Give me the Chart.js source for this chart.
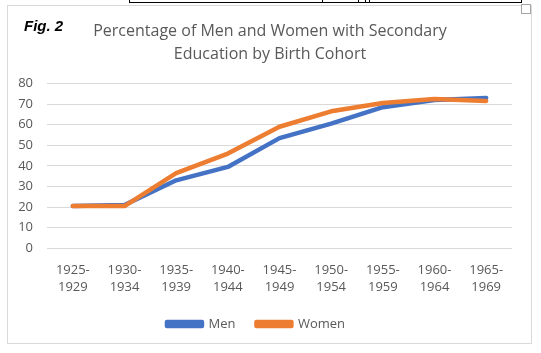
<!DOCTYPE html>
<html>
<head>
<meta charset="utf-8">
<script src="https://cdn.jsdelivr.net/npm/chart.js@4"></script>
<style>
  html, body { margin: 0; padding: 0; background: #fff; }
  #wrap { position: relative; width: 541px; height: 353px; overflow: hidden; }
  #chart { position: absolute; left: 0; top: 0; }
  .frame { position: absolute; left: 7px; top: 5px; width: 525px; height: 339px; box-sizing: border-box; border: 1px solid #d9d9d9; pointer-events: none; }
  .handle { position: absolute; left: 521px; top: 4px; width: 10px; height: 10px; box-sizing: border-box; border: 1px solid #a6a6a6; background: #fff; }
  .topbox { position: absolute; left: 129px; top: -10px; width: 393px; height: 13px; box-sizing: border-box; border: 1px solid #000; }
  .tick { position: absolute; top: 0; width: 1px; height: 2px; background: #000; }
  .fig { position: absolute; left: 24px; top: 18px; font: italic bold 15px/15px "Liberation Sans", Arial, sans-serif; color: #000; }
  .title { position: absolute; left: 0; top: 18.75px; width: 540px; text-align: center;
           font: 16px/23.5px "Open Sans", sans-serif; color: #595959; }
</style>
</head>
<body>
<div id="wrap">
  <canvas id="chart" width="541" height="353"></canvas>
  <div class="frame"></div>
  <div class="topbox"></div>
  <div class="tick" style="left:322px"></div>
  <div class="tick" style="left:358px"></div>
  <div class="tick" style="left:365px"></div>
  <div class="tick" style="left:369px;height:3px"></div>
  <div class="handle"></div>
  <div class="fig">Fig. 2</div>
  <div class="title" id="title"></div>
</div>
<script>
const cohorts = [
  ['1925-', '1929'], ['1930-', '1934'], ['1935-', '1939'],
  ['1940-', '1944'], ['1945-', '1949'], ['1950-', '1954'],
  ['1955-', '1959'], ['1960-', '1964'], ['1965-', '1969'],
];
const men   = [20.5, 21, 33, 39.5, 53.5, 60.5, 68.5, 72, 73];
const women = [20.5, 20.5, 36.5, 46, 59, 66.5, 70.5, 72.5, 71.5];
const titleLines = ['Percentage of Men and Women with Secondary', 'Education by Birth Cohort'];

const GREY = '#595959';
document.getElementById('title').innerHTML = titleLines.join('<br>');

Chart.defaults.font.family = '"Open Sans", sans-serif';
Chart.defaults.color = GREY;

new Chart(document.getElementById('chart'), {
  type: 'line',
  data: {
    labels: cohorts,
    datasets: [
      { label: 'Men',   data: men,   borderColor: '#4472c4', backgroundColor: '#4472c4', order: 1 },
      { label: 'Women', data: women, borderColor: '#ed7d31', backgroundColor: '#ed7d31', order: 0 },
    ],
  },
  options: {
    responsive: false,
    animation: false,
    layout: { padding: { left: 0, right: 29, top: 83.5, bottom: 12.5 } },
    elements: {
      line: { borderWidth: 4.5, tension: 0, borderJoinStyle: 'round', borderCapStyle: 'round' },
      point: { radius: 0, hoverRadius: 0 },
    },
    plugins: {
      title: { display: false },
      legend: {
        position: 'bottom',
        labels: {
          boxWidth: 35, boxHeight: 4, padding: 21,
          color: GREY, font: { size: 13 },
          // keep Men first even though Women is drawn on top
          sort: (a, b) => a.datasetIndex - b.datasetIndex,
        },
      },
      tooltip: { enabled: false },
    },
    scales: {
      x: {
        offset: true,
        grid: { display: false },
        border: { display: false },
        ticks: { color: GREY, font: { size: 13, lineHeight: 1.35 }, padding: 5, maxRotation: 0, autoSkip: false },
        afterFit: s => { s.height = 48.2; },
      },
      y: {
        min: 0, max: 80,
        grid: { color: '#d9d9d9', drawTicks: false },
        border: { display: false },
        ticks: { stepSize: 10, color: GREY, font: { size: 13 }, padding: 14 },
        afterFit: s => { s.width = 47; },
      },
    },
  },
});
</script>
</body>
</html>
